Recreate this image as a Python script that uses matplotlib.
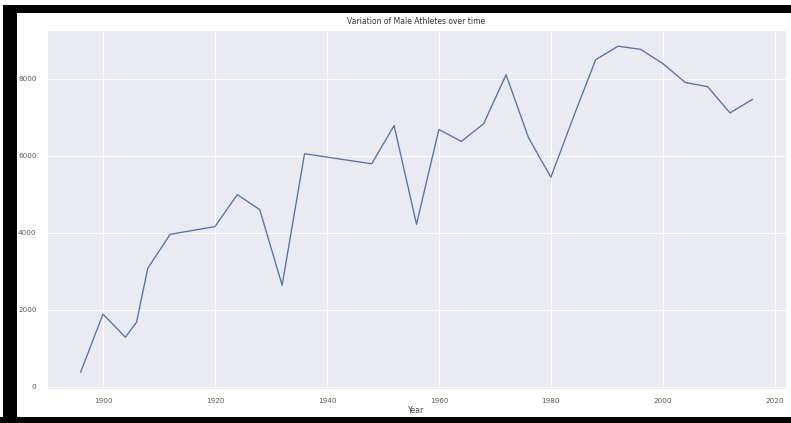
import matplotlib
matplotlib.use("Agg")
import matplotlib.pyplot as plt
from matplotlib.patches import Rectangle
import seaborn as sns

# -----------------------
# Data
# -----------------------
years = [1896, 1900, 1904, 1906, 1908, 1912, 1920, 1924, 1928, 1932, 1936,
         1948, 1952, 1956, 1960, 1964, 1968, 1972, 1976, 1980, 1984, 1988,
         1992, 1996, 2000, 2004, 2008, 2012, 2016]
male_athletes = [380, 1890, 1290, 1680, 3080, 3960, 4160, 4990, 4600, 2640, 6050,
                 5790, 6780, 4220, 6680, 6370, 6830, 8100, 6470, 5440, 6990, 8490,
                 8840, 8760, 8390, 7900, 7790, 7110, 7460]

sns.set_style("darkgrid", {"grid.linewidth": 0.7})
plt.rcParams["font.family"] = ["DejaVu Sans"]

W, H = 791, 423
fig = plt.figure(figsize=(W / 100, H / 100), dpi=100)
ax = fig.add_axes([47 / W, 0.0813, 739 / W, 0.848])

ax.plot(years, male_athletes, color="#5572a8", linewidth=0.95)
ax.grid(True, color="white", linewidth=0.7)

ax.set_xticks([1900, 1920, 1940, 1960, 1980, 2000, 2020])
ax.set_yticks([0, 2000, 4000, 6000, 8000])
ax.tick_params(axis="both", labelsize=5.2, colors="#5a5a5a")
ax.tick_params(axis="x", pad=3)
ax.tick_params(axis="y", pad=4)

ax.set_xlabel("Year", fontsize=5.5, color="#444444", labelpad=2)
ax.set_title("Variation of Male Athletes over time", fontsize=5.5,
             color="#333333", pad=4)

# black screenshot frame
def px_rect(x0, y0, x1, y1):
    fig.patches.append(Rectangle((x0 / W, 1 - y1 / H), (x1 - x0) / W, (y1 - y0) / H,
                                 transform=fig.transFigure, facecolor="black",
                                 edgecolor="none", zorder=10))

px_rect(3, 5, W, 13)
px_rect(3, 5, 17, 417)
px_rect(0, 417, W, H)

fig.savefig("out.png", dpi=100)
plt.close(fig)
